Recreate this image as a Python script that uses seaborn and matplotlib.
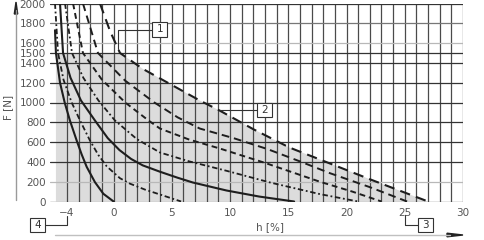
import matplotlib
matplotlib.use("Agg")
import matplotlib.pyplot as plt
from matplotlib.lines import Line2D
from matplotlib.patches import Rectangle, Polygon
import seaborn as sns
import numpy as np
import pandas as pd

# ---------------- data ----------------
curve_a_x = [-5.03, -4.95, -4.6, -4.2, -3.75, -3.17, -2.74, -2.31, -1.6, -0.88, 0.0]
curve_a_f = [1730, 1500, 1200, 1000, 818, 616, 475, 350, 195, 78, 0]

curve_b_x = [-5.03, -4.77, -4.3, -3.6, -2.88, -2.03, -1.31, -0.59, 0.55, 1.41, 2.7, 4.0, 5.8]
curve_b_f = [2000, 1500, 1230, 1000, 818, 616, 470, 355, 235, 180, 120, 70, 0]

curve_c_x = [-4.6, -4.34, -3.7, -2.8, -1.6, -0.5, 0.5, 1.5, 2.5, 4.0, 5.5, 6.8, 9.7, 12.5, 15.5]
curve_c_f = [2000, 1500, 1250, 1020, 818, 640, 520, 430, 365, 300, 240, 192, 111, 50, 0]

curve_d_x = [-4.17, -3.57, -2.6, -1.3, 0.12, 2.0, 3.98, 6.5, 9.7, 13.5, 17.7, 21.0]
curve_d_f = [2000, 1500, 1250, 1020, 818, 630, 495, 405, 310, 190, 75, 0]

curve_e1_x = [-3.48, -2.63, -1.0, 1.0, 3.0, 3.98, 6.5, 9.13, 13.0, 17.7, 20.5, 23.0]
curve_e1_f = [2000, 1500, 1230, 1000, 818, 737, 625, 535, 390, 200, 100, 0]

curve_e2_x = [-2.63, -1.34, 1.0, 3.5, 5.5, 7.4, 10.3, 13.2, 16.0, 18.6, 22.0, 25.2]
curve_e2_f = [2000, 1500, 1220, 1000, 850, 737, 640, 530, 405, 285, 145, 0]

curve_o_x = [-1.17, -0.3, 0.55, 2.5, 4.0, 7.4, 9.1, 12.0, 15.1, 17.5, 22.0, 27.0]
curve_o_f = [2000, 1720, 1500, 1340, 1242, 1020, 919, 730, 545, 434, 225, 0]

x_ticks = [-4, 0, 5, 10, 15, 20, 25, 30]
x_tick_labels = ["\u22124", "0", "5", "10", "15", "20", "25", "30"]
y_ticks = [0, 200, 400, 600, 800, 1000, 1200, 1400, 1500, 1600, 1800, 2000]
y_tick_labels = [str(v) for v in y_ticks]
force_cap = 1500
area_left = -4.95

callouts = ["1", "2", "3", "4"]

# ---------------- figure ----------------
sns.set_theme(style="white")
plt.rcParams['font.family'] = ['DejaVu Sans']

W, H = 485, 240
fig = plt.figure(figsize=(W / 100, H / 100), dpi=100)
fig.patch.set_facecolor("white")

def fx(px):
    return px / W

def fy(py):
    return 1 - py / H

ax = fig.add_axes([fx(50), fy(201.5), (463 - 50) / W, (201.5 - 3.5) / H])
ax.set_facecolor("white")
ax.set_xlim(-5.46, 30)
ax.set_ylim(0, 2000)

# shaded operating area (under the outer curve, capped at 1500 N)
ox = np.array(curve_o_x)
of = np.array(curve_o_f)
order = np.argsort(of)
x_at_cap = np.interp(force_cap, of[order], ox[order])
mask = of < force_cap
poly_x = [area_left, area_left, x_at_cap] + list(ox[mask]) + [ox[mask][-1]]
poly_y = [0, force_cap, force_cap] + list(of[mask]) + [0]
ax.add_patch(Polygon(np.column_stack([poly_x, poly_y]), closed=True,
                     facecolor="#dcdcdc", edgecolor="none", zorder=0))

# grid
for v in range(-4, 31):
    ax.axvline(v, color="#4a4a4a", lw=0.9, zorder=1)
for v in y_ticks:
    col = "#b8b8b8" if v in (200, 1600) else ("#777777" if v == 1800 else "#333333")
    ax.axhline(v, color=col, lw=0.9, zorder=1)

ax.set_xticks(x_ticks)
ax.set_xticklabels(x_tick_labels)
ax.set_yticks(y_ticks)
ax.set_yticklabels(y_tick_labels)
ax.tick_params(axis="both", length=0, labelsize=7.5, labelcolor="#555555")
ax.tick_params(axis="y", pad=3)
ax.tick_params(axis="x", pad=5)
for s in ax.spines.values():
    s.set_visible(False)

# curves
ink = "#1e1e1e"
df = pd.concat([
    pd.DataFrame({"h": curve_a_x, "F": curve_a_f, "c": "a"}),
    pd.DataFrame({"h": curve_b_x, "F": curve_b_f, "c": "b"}),
    pd.DataFrame({"h": curve_c_x, "F": curve_c_f, "c": "c"}),
    pd.DataFrame({"h": curve_d_x, "F": curve_d_f, "c": "d"}),
    pd.DataFrame({"h": curve_e1_x, "F": curve_e1_f, "c": "e1"}),
    pd.DataFrame({"h": curve_e2_x, "F": curve_e2_f, "c": "e2"}),
    pd.DataFrame({"h": curve_o_x, "F": curve_o_f, "c": "o"}),
])
styles = {
    "a": dict(ls="-", lw=1.5),
    "b": dict(ls=(0, (3, 1.5, 1, 1.5)), lw=1.3),
    "c": dict(ls="-", lw=1.5),
    "d": dict(ls=(0, (3, 1.5, 1, 1.5)), lw=1.3),
    "e1": dict(ls=(0, (3, 2)), lw=1.4),
    "e2": dict(ls=(0, (4, 2.5)), lw=1.4),
    "o": dict(ls=(0, (5, 3)), lw=1.5),
}
for key, st in styles.items():
    sub = df[df["c"] == key]
    sns.lineplot(data=sub, x="h", y="F", ax=ax, color=ink, sort=False,
                 estimator=None, zorder=3, **st)
ax.set_xlabel("")
ax.set_ylabel("")

# axis titles
fig.text(fx(270), fy(227), "h [%]", ha="center", va="center", fontsize=7.5, color="#555555")
fig.text(fx(8), fy(107), "F [N]", ha="center", va="center", fontsize=7.5,
         color="#555555", rotation=90)

# axis arrows
fig.add_artist(Line2D([fx(16), fx(16)], [fy(200), fy(10)], color="#9a9a9a", lw=1.0))
fig.add_artist(Polygon([[fx(14.3), fy(14)], [fx(17.7), fy(14)], [fx(16), fy(2)]],
                       closed=True, color="#222222"))
fig.add_artist(Line2D([fx(55), fx(450)], [fy(235), fy(235)], color="#c0c0c0", lw=1.0))
fig.add_artist(Polygon([[fx(447), fy(233.2)], [fx(447), fy(236.8)], [fx(463), fy(235)]],
                       closed=True, color="#222222"))

# callouts
def callout(label, cx, cy, path):
    fig.add_artist(Rectangle((fx(cx - 7.5), fy(cy + 7)), 15 / W, 14 / H,
                             facecolor="white", edgecolor="#333333", lw=0.8))
    fig.text(fx(cx), fy(cy), label, ha="center", va="center", fontsize=7.5, color="#333333")
    xs = [fx(p[0]) for p in path]
    ys = [fy(p[1]) for p in path]
    fig.add_artist(Line2D(xs, ys, color="#333333", lw=0.8))

callout(callouts[0], 160, 29.5, [(152.5, 29.5), (118, 29.5), (118, 49)])
callout(callouts[1], 265, 110, [(257.5, 110), (220, 110)])
callout(callouts[2], 425, 224.5, [(417.5, 224.5), (405, 224.5), (405, 215)])
callout(callouts[3], 37.5, 225, [(45, 225), (67, 225), (67, 216)])

fig.savefig("out.png", dpi=100, facecolor="white")
